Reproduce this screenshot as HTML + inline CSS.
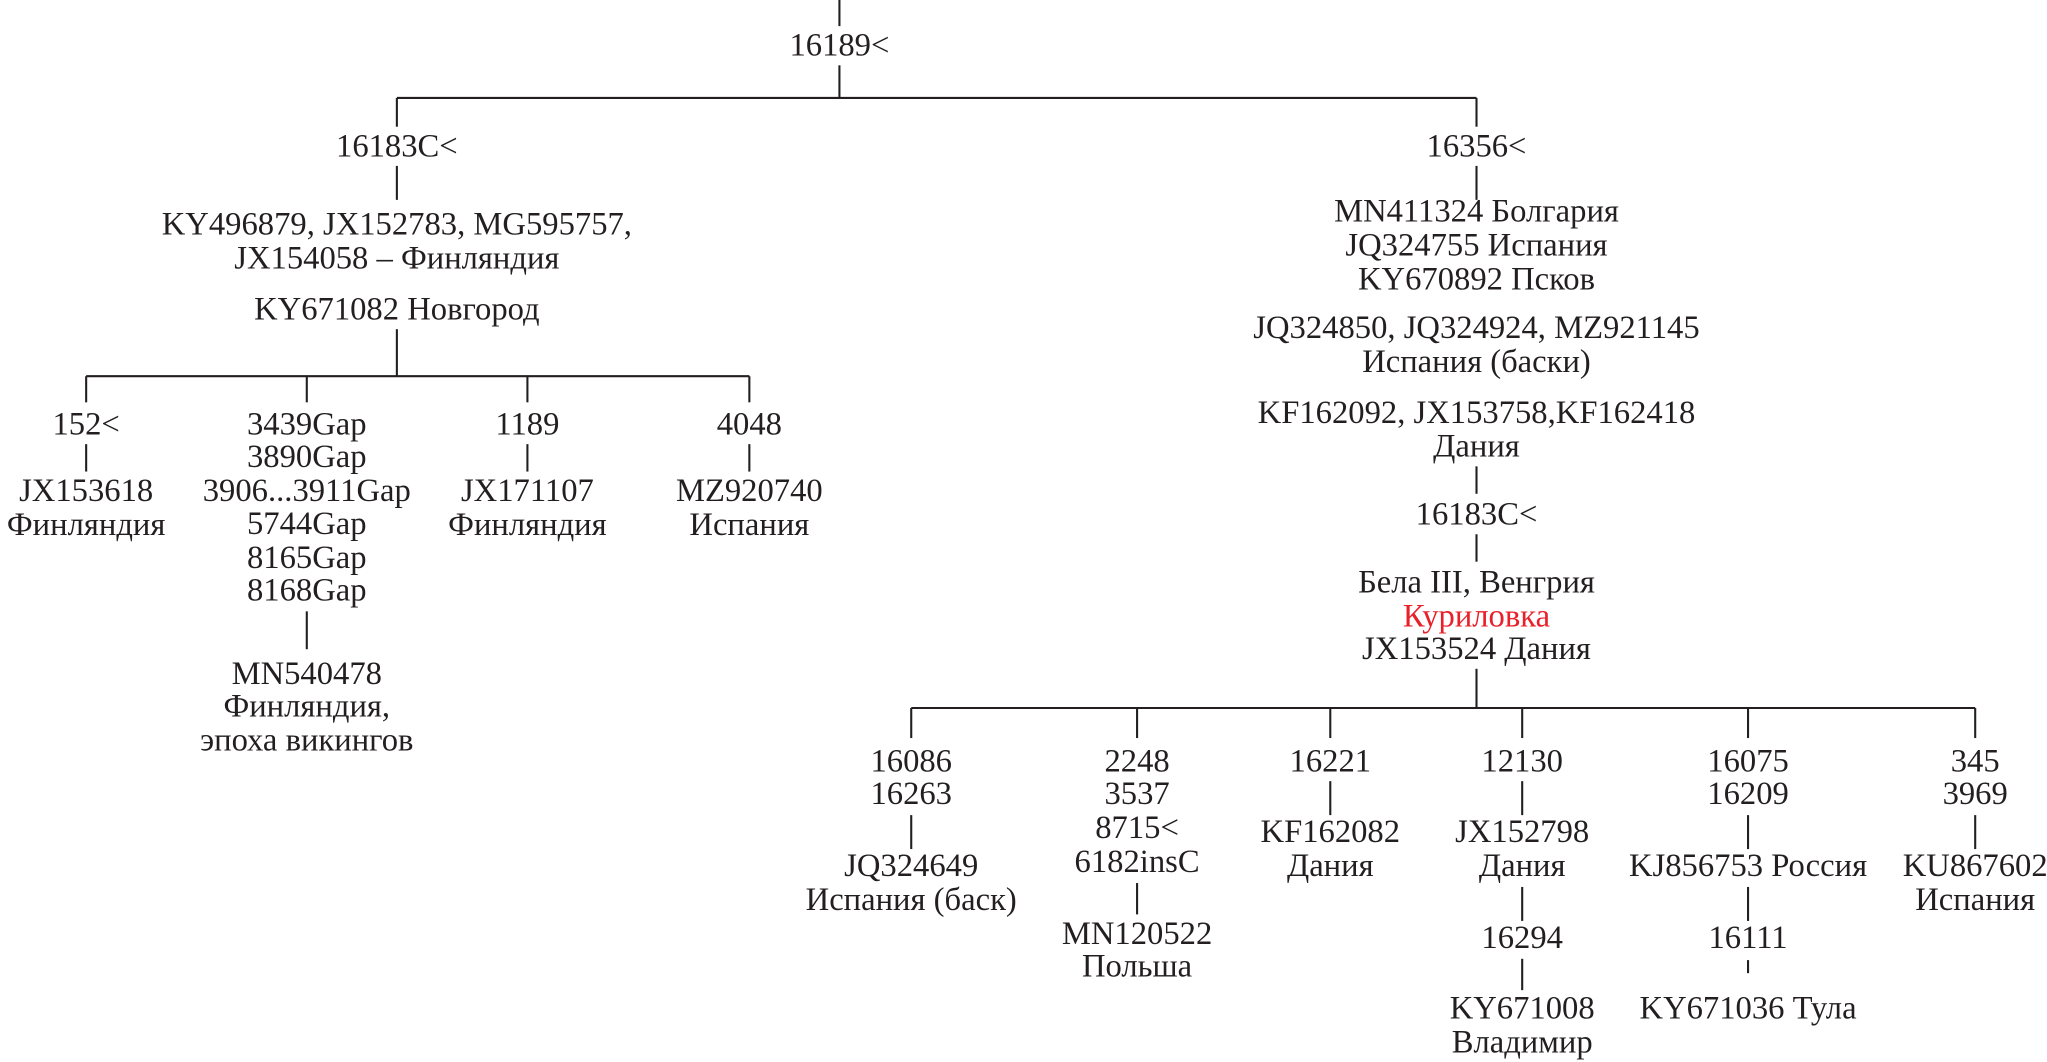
<!DOCTYPE html>
<html><head><meta charset="utf-8"><style>
html,body{margin:0;padding:0;background:#fff;}
svg{display:block;}
text{font-family:"Liberation Serif","DejaVu Serif",serif;font-size:25px;fill:#231f20;text-anchor:middle;dominant-baseline:central;}
line{stroke:#231f20;stroke-width:1.6;}
</style></head><body>
<svg width="2047" height="1062" viewBox="0 0 1568 813" preserveAspectRatio="none" xmlns="http://www.w3.org/2000/svg">
<line x1="643" y1="0" x2="643" y2="20"/>
<text x="643" y="35">16189&lt;</text>
<line x1="643" y1="50" x2="643" y2="75"/>
<line x1="304" y1="75" x2="1131" y2="75"/>
<line x1="304" y1="75" x2="304" y2="97"/>
<line x1="1131" y1="75" x2="1131" y2="97"/>
<text x="304" y="112">16183C&lt;</text>
<line x1="304" y1="127" x2="304" y2="153"/>
<text x="304" y="172">KY496879, JX152783, MG595757,</text>
<text x="304" y="198">JX154058 – Финляндия</text>
<text x="304" y="237">KY671082 Новгород</text>
<line x1="304" y1="252" x2="304" y2="288"/>
<line x1="66" y1="288" x2="574" y2="288"/>
<line x1="66" y1="288" x2="66" y2="308"/>
<line x1="235" y1="288" x2="235" y2="308"/>
<line x1="404" y1="288" x2="404" y2="308"/>
<line x1="574" y1="288" x2="574" y2="308"/>
<text x="66" y="325">152&lt;</text>
<line x1="66" y1="340" x2="66" y2="361"/>
<text x="66" y="376">JX153618</text><text x="66" y="402">Финляндия</text>
<text x="235" y="325">3439Gap</text><text x="235" y="350">3890Gap</text><text x="235" y="376">3906...3911Gap</text>
<text x="235" y="401">5744Gap</text><text x="235" y="427">8165Gap</text><text x="235" y="452">8168Gap</text>
<line x1="235" y1="468" x2="235" y2="497"/>
<text x="235" y="516">MN540478</text><text x="235" y="541">Финляндия,</text><text x="235" y="567">эпоха викингов</text>
<text x="404" y="325">1189</text>
<line x1="404" y1="340" x2="404" y2="361"/>
<text x="404" y="376">JX171107</text><text x="404" y="402">Финляндия</text>
<text x="574" y="325">4048</text>
<line x1="574" y1="340" x2="574" y2="361"/>
<text x="574" y="376">MZ920740</text><text x="574" y="402">Испания</text>
<text x="1131" y="112">16356&lt;</text>
<line x1="1131" y1="127" x2="1131" y2="153"/>
<text x="1131" y="162">MN411324 Болгария</text>
<text x="1131" y="188">JQ324755 Испания</text>
<text x="1131" y="214">KY670892 Псков</text>
<text x="1131" y="251">JQ324850, JQ324924, MZ921145</text>
<text x="1131" y="277">Испания (баски)</text>
<text x="1131" y="316">KF162092, JX153758,KF162418</text>
<text x="1131" y="342">Дания</text>
<line x1="1131" y1="357" x2="1131" y2="378"/>
<text x="1131" y="394">16183C&lt;</text>
<line x1="1131" y1="409" x2="1131" y2="430"/>
<text x="1131" y="446">Бела III, Венгрия</text>
<text x="1131" y="472" style="fill:#e8202a">Куриловка</text>
<text x="1131" y="497">JX153524 Дания</text>
<line x1="1131" y1="512" x2="1131" y2="542"/>
<line x1="698" y1="542" x2="1513" y2="542"/>
<line x1="698" y1="542" x2="698" y2="565"/>
<line x1="871" y1="542" x2="871" y2="565"/>
<line x1="1019" y1="542" x2="1019" y2="565"/>
<line x1="1166" y1="542" x2="1166" y2="565"/>
<line x1="1339" y1="542" x2="1339" y2="565"/>
<line x1="1513" y1="542" x2="1513" y2="565"/>
<text x="698" y="583">16086</text><text x="698" y="608">16263</text>
<line x1="698" y1="624" x2="698" y2="650"/>
<text x="698" y="663">JQ324649</text><text x="698" y="689">Испания (баск)</text>
<text x="871" y="583">2248</text><text x="871" y="608">3537</text><text x="871" y="634">8715&lt;</text><text x="871" y="660">6182insC</text>
<line x1="871" y1="676" x2="871" y2="700"/>
<text x="871" y="715">MN120522</text><text x="871" y="740">Польша</text>
<text x="1019" y="583">16221</text>
<line x1="1019" y1="598" x2="1019" y2="624"/>
<text x="1019" y="637">KF162082</text><text x="1019" y="663">Дания</text>
<text x="1166" y="583">12130</text>
<line x1="1166" y1="598" x2="1166" y2="624"/>
<text x="1166" y="637">JX152798</text><text x="1166" y="663">Дания</text>
<line x1="1166" y1="679" x2="1166" y2="705"/>
<text x="1166" y="718">16294</text>
<line x1="1166" y1="734" x2="1166" y2="758"/>
<text x="1166" y="772">KY671008</text><text x="1166" y="798">Владимир</text>
<text x="1339" y="583">16075</text><text x="1339" y="608">16209</text>
<line x1="1339" y1="624" x2="1339" y2="650"/>
<text x="1339" y="663">KJ856753 Россия</text>
<line x1="1339" y1="679" x2="1339" y2="705"/>
<text x="1339" y="718">16111</text>
<line x1="1339" y1="735" x2="1339" y2="745"/>
<text x="1339" y="772">KY671036 Тула</text>
<text x="1513" y="583">345</text><text x="1513" y="608">3969</text>
<line x1="1513" y1="624" x2="1513" y2="650"/>
<text x="1513" y="663">KU867602</text><text x="1513" y="689">Испания</text>
</svg>
</body></html>
